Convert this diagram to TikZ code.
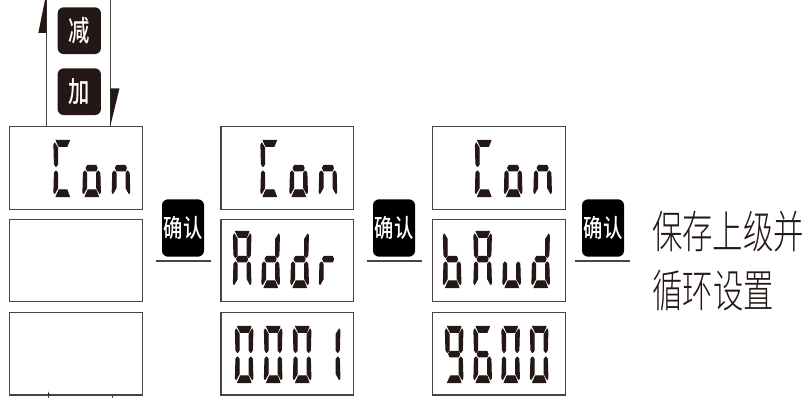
\documentclass[tikz,border=0pt]{standalone}
\usepackage{graphicx}
\usepackage{fontspec}
\newfontfamily\cjk{Noto Sans CJK SC}
\newfontfamily\cjklight{Noto Sans CJK SC Light}
\newfontfamily\cjkbold{Noto Sans CJK SC Medium}
\definecolor{ink}{HTML}{231815}
\definecolor{rim}{HTML}{4A4441}
\newcommand\sgA{\path[seg] (2.5,0.3)--(16,0.3)--(13.5,6.5)--(5.5,6.5)--cycle;}
\newcommand\sgB{\path[seg] (17.3,3)--(17.9,5)--(17.4,24)--(15.8,26.5)--(14.2,24.5)--(14.2,8)--cycle;}
\newcommand\sgC{\path[seg] (15.8,31)--(17.4,33)--(17.9,52)--(17.2,53.5)--(14.2,48)--(14.2,33)--cycle;}
\newcommand\sgD{\path[seg] (5.5,50)--(13.5,50)--(16,56.7)--(2.5,56.7)--cycle;}
\newcommand\sgE{\path[seg] (2.4,31)--(4.2,33)--(4.2,48)--(1,53.5)--(0.4,52)--(0.9,33)--cycle;}
\newcommand\sgF{\path[seg] (1.2,3)--(4.2,8)--(4.2,24.5)--(2.4,26.5)--(0.9,24)--(0.4,5)--cycle;}
\newcommand\sgG{\path[seg] (5,25.5)--(13.5,25.5)--(14.6,28)--(13.5,31)--(5,31)--(3.6,28)--cycle;}
\newcommand\glyph[3]{\begin{scope}[shift={(#1,#2)}]#3\end{scope}}
\newcommand\gC{\sgA\sgF\sgE\sgD}
\newcommand\go{\sgG\sgC\sgD\sgE}
\newcommand\gn{\sgG\sgC\sgE}
\newcommand\gA{\sgA\sgB\sgC\sgE\sgF\sgG}
\newcommand\gd{\sgB\sgC\sgD\sgE\sgG}
\newcommand\gr{\sgE\sgG}
\newcommand\gZ{\sgA\sgB\sgC\sgD\sgE\sgF}
\newcommand\gI{\sgB\sgC}
\newcommand\gN{\sgA\sgB\sgC\sgD\sgF\sgG}
\newcommand\gS{\sgA\sgC\sgD\sgE\sgF\sgG}
\newcommand\gb{\sgC\sgD\sgE\sgF\sgG}
\newcommand\gu{\sgC\sgD\sgE}
\tikzset{
  seg/.style={fill=ink,draw=ink,line width=0.75pt,line join=round},
  lcd/.style={draw=rim,line width=0.9pt,fill=white,minimum width=99.5pt,minimum height=61.8pt,inner sep=0pt},
  btn/.style={fill=ink,rounded corners=4.5pt,inner sep=0pt,text=white,font=\cjkbold},
  okbtn/.style={btn,fill=black,minimum width=31.5pt,minimum height=43pt},
  pmbtn/.style={btn,minimum width=32.5pt,minimum height=35.5pt},
  wire/.style={draw=rim,line width=0.9pt},
  note/.style={font=\cjklight\fontsize{30}{30}\selectfont,text=ink,inner sep=0pt},
  reading/.style={text opacity=0,inner sep=0pt,font=\sffamily\fontsize{30}{30}\selectfont}
}
\begin{document}
\begin{tikzpicture}[x=0.75pt,y=-0.75pt]
\useasboundingbox (0,0) rectangle (807,398);
\clip (0,0) rectangle (807,398);
\foreach \nm/\cx in {l/76,m/287.4,r/499}{
  \node[lcd] (\nm1) at (\cx,168) {};
  \node[lcd] (\nm2) at (\cx,260.7) {};
  \node[lcd] (\nm3) at (\cx,353.8) {};
}
\glyph{53.5}{140}{\gC}\glyph{82.5}{140}{\go}\glyph{111.8}{140}{\gn}
\glyph{260.5}{140}{\gC}\glyph{289.5}{140}{\go}\glyph{318.8}{140}{\gn}
\glyph{475}{140}{\gC}\glyph{504}{140}{\go}\glyph{533.5}{140}{\gn}
\node[reading] (t1) at (l1) {Con};
\node[reading] (t2) at (m1) {Con};
\node[reading] (t3) at (r1) {Con};
\glyph{233}{231}{\gA}\glyph{261.5}{231}{\gd}\glyph{290.5}{231}{\gd}\glyph{319}{231}{\gr}
\node[reading] (t4) at (m2) {Addr};
\glyph{235}{326}{\gZ}\glyph{264}{326}{\gZ}\glyph{293}{326}{\gZ}\glyph{322}{326}{\gI}
\node[reading] (t5) at (m3) {0001};
\glyph{443}{231}{\gb}\glyph{473.5}{231}{\gA}\glyph{502.5}{231}{\gu}\glyph{531.5}{231}{\gd}
\node[reading] (t6) at (r2) {bAud};
\glyph{445}{326}{\gN}\glyph{473.5}{326}{\gS}\glyph{501.5}{326}{\gZ}\glyph{530}{326}{\gZ}
\node[reading] (t7) at (r3) {9600};
\foreach \n/\cx/\xa/\xb in {a/183/156/211,b/394/367/422,c/603/575/630}{
  \node[okbtn] (ok\n) at (\cx,228) {\fontsize{14.5}{15}\selectfont\scalebox{1}[1.3]{确认}};
  \coordinate (ok\n l) at (\xa,261);
  \coordinate (ok\n r) at (\xb,261);
  \draw[wire] (ok\n l) -- (ok\n r);
}
\node[pmbtn,minimum height=35pt] (dec) at (79.3,30.7) {\fontsize{16}{16}\selectfont\scalebox{1}[1.35]{减}};
\node[pmbtn,minimum height=35pt] (inc) at (79.3,91.7) {\fontsize{16}{16}\selectfont\scalebox{1}[1.35]{加}};
\coordinate (upt) at (46.7,0);
\coordinate (dnt) at (110.3,0);
\coordinate (upb) at (46.7,126.5);
\coordinate (dnb) at (110.3,126.5);
\draw[wire] (upt) -- (upb);
\draw[wire] (dnt) -- (dnb);
\fill[ink] (38.3,33) -- (45,0) -- (46.7,0) -- (46.7,33) -- cycle;
\fill[ink] (110.3,126) -- (119.5,88.3) -- (110.3,88.3) -- cycle;
\coordinate (ta) at (48.7,395);
\coordinate (tb) at (48.7,398);
\coordinate (tc) at (112.7,395);
\coordinate (td) at (112.7,398);
\draw[wire,line width=0.7pt] (ta) -- (tb);
\draw[wire,line width=0.7pt] (tc) -- (td);
\fill[ink] (48.7,391.5) -- (49.6,395) -- (47.8,395) -- cycle;
\node[note,anchor=center] (n1) at (728,231.5) {\scalebox{0.76}[1.12]{保存上级并}};
\node[note,anchor=center] (n2) at (713,291) {\scalebox{0.76}[1.12]{循环设置}};
\end{tikzpicture}
\end{document}
